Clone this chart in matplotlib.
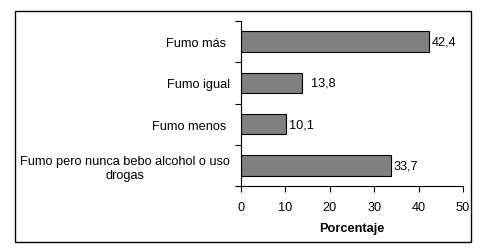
import matplotlib
matplotlib.use("Agg")
import matplotlib.pyplot as plt
from matplotlib.patches import Rectangle
from matplotlib.ticker import FixedLocator

categories = ["Fumo más ", "Fumo igual", "Fumo menos ", "Fumo pero nunca bebo alcohol o uso\ndrogas"]
values = [42.4, 13.8, 10.1, 33.7]
xticks = [0, 10, 20, 30, 40, 50]
label_pad = [2, 6.5, 2, 2]

FS = 9.2
plt.rcParams['font.family'] = ['Liberation Sans', 'DejaVu Sans']
fig = plt.figure(figsize=(4.85, 2.51), dpi=100)
ax = fig.add_axes([241/485, 1-187/251, (463-241)/485, (187-22)/251])

y = list(range(len(categories)))
bars = ax.barh(y, values, height=0.5, color='#808080', edgecolor='black', linewidth=0.8)
ax.set_ylim(len(categories)-0.5, -0.5)
ax.set_xlim(0, 50)
ax.set_xticks(xticks)
ax.set_xticklabels([str(t) for t in xticks], fontsize=FS)
ax.set_yticks(y)
ax.set_yticklabels(categories, fontsize=FS, ha='right', multialignment='center')
ax.yaxis.set_minor_locator(FixedLocator([i - 0.5 for i in range(len(categories)+1)]))
ax.tick_params(axis='y', which='major', length=0, pad=8)
ax.tick_params(axis='y', which='minor', length=4, width=0.8, direction='out')
ax.tick_params(axis='x', which='major', length=4, width=0.8, direction='out', pad=6.5)
for s in ['top', 'right']:
    ax.spines[s].set_visible(False)
for s in ['left', 'bottom']:
    ax.spines[s].set_linewidth(0.8)

for b, v, p in zip(bars, values, label_pad):
    ax.annotate(f"{v:.1f}".replace('.', ','), (v, b.get_y() + b.get_height()/2),
                xytext=(p, 0), textcoords='offset points', va='center', ha='left', fontsize=FS)

ax.set_xlabel("Porcentaje", fontsize=FS, fontweight='bold', labelpad=7)

fig.add_artist(Rectangle((15/485, 1-243/251), (471-15)/485, (243-11.5)/251,
                         transform=fig.transFigure, fill=False, edgecolor='black', linewidth=1))
fig.savefig("out.png", dpi=100)
